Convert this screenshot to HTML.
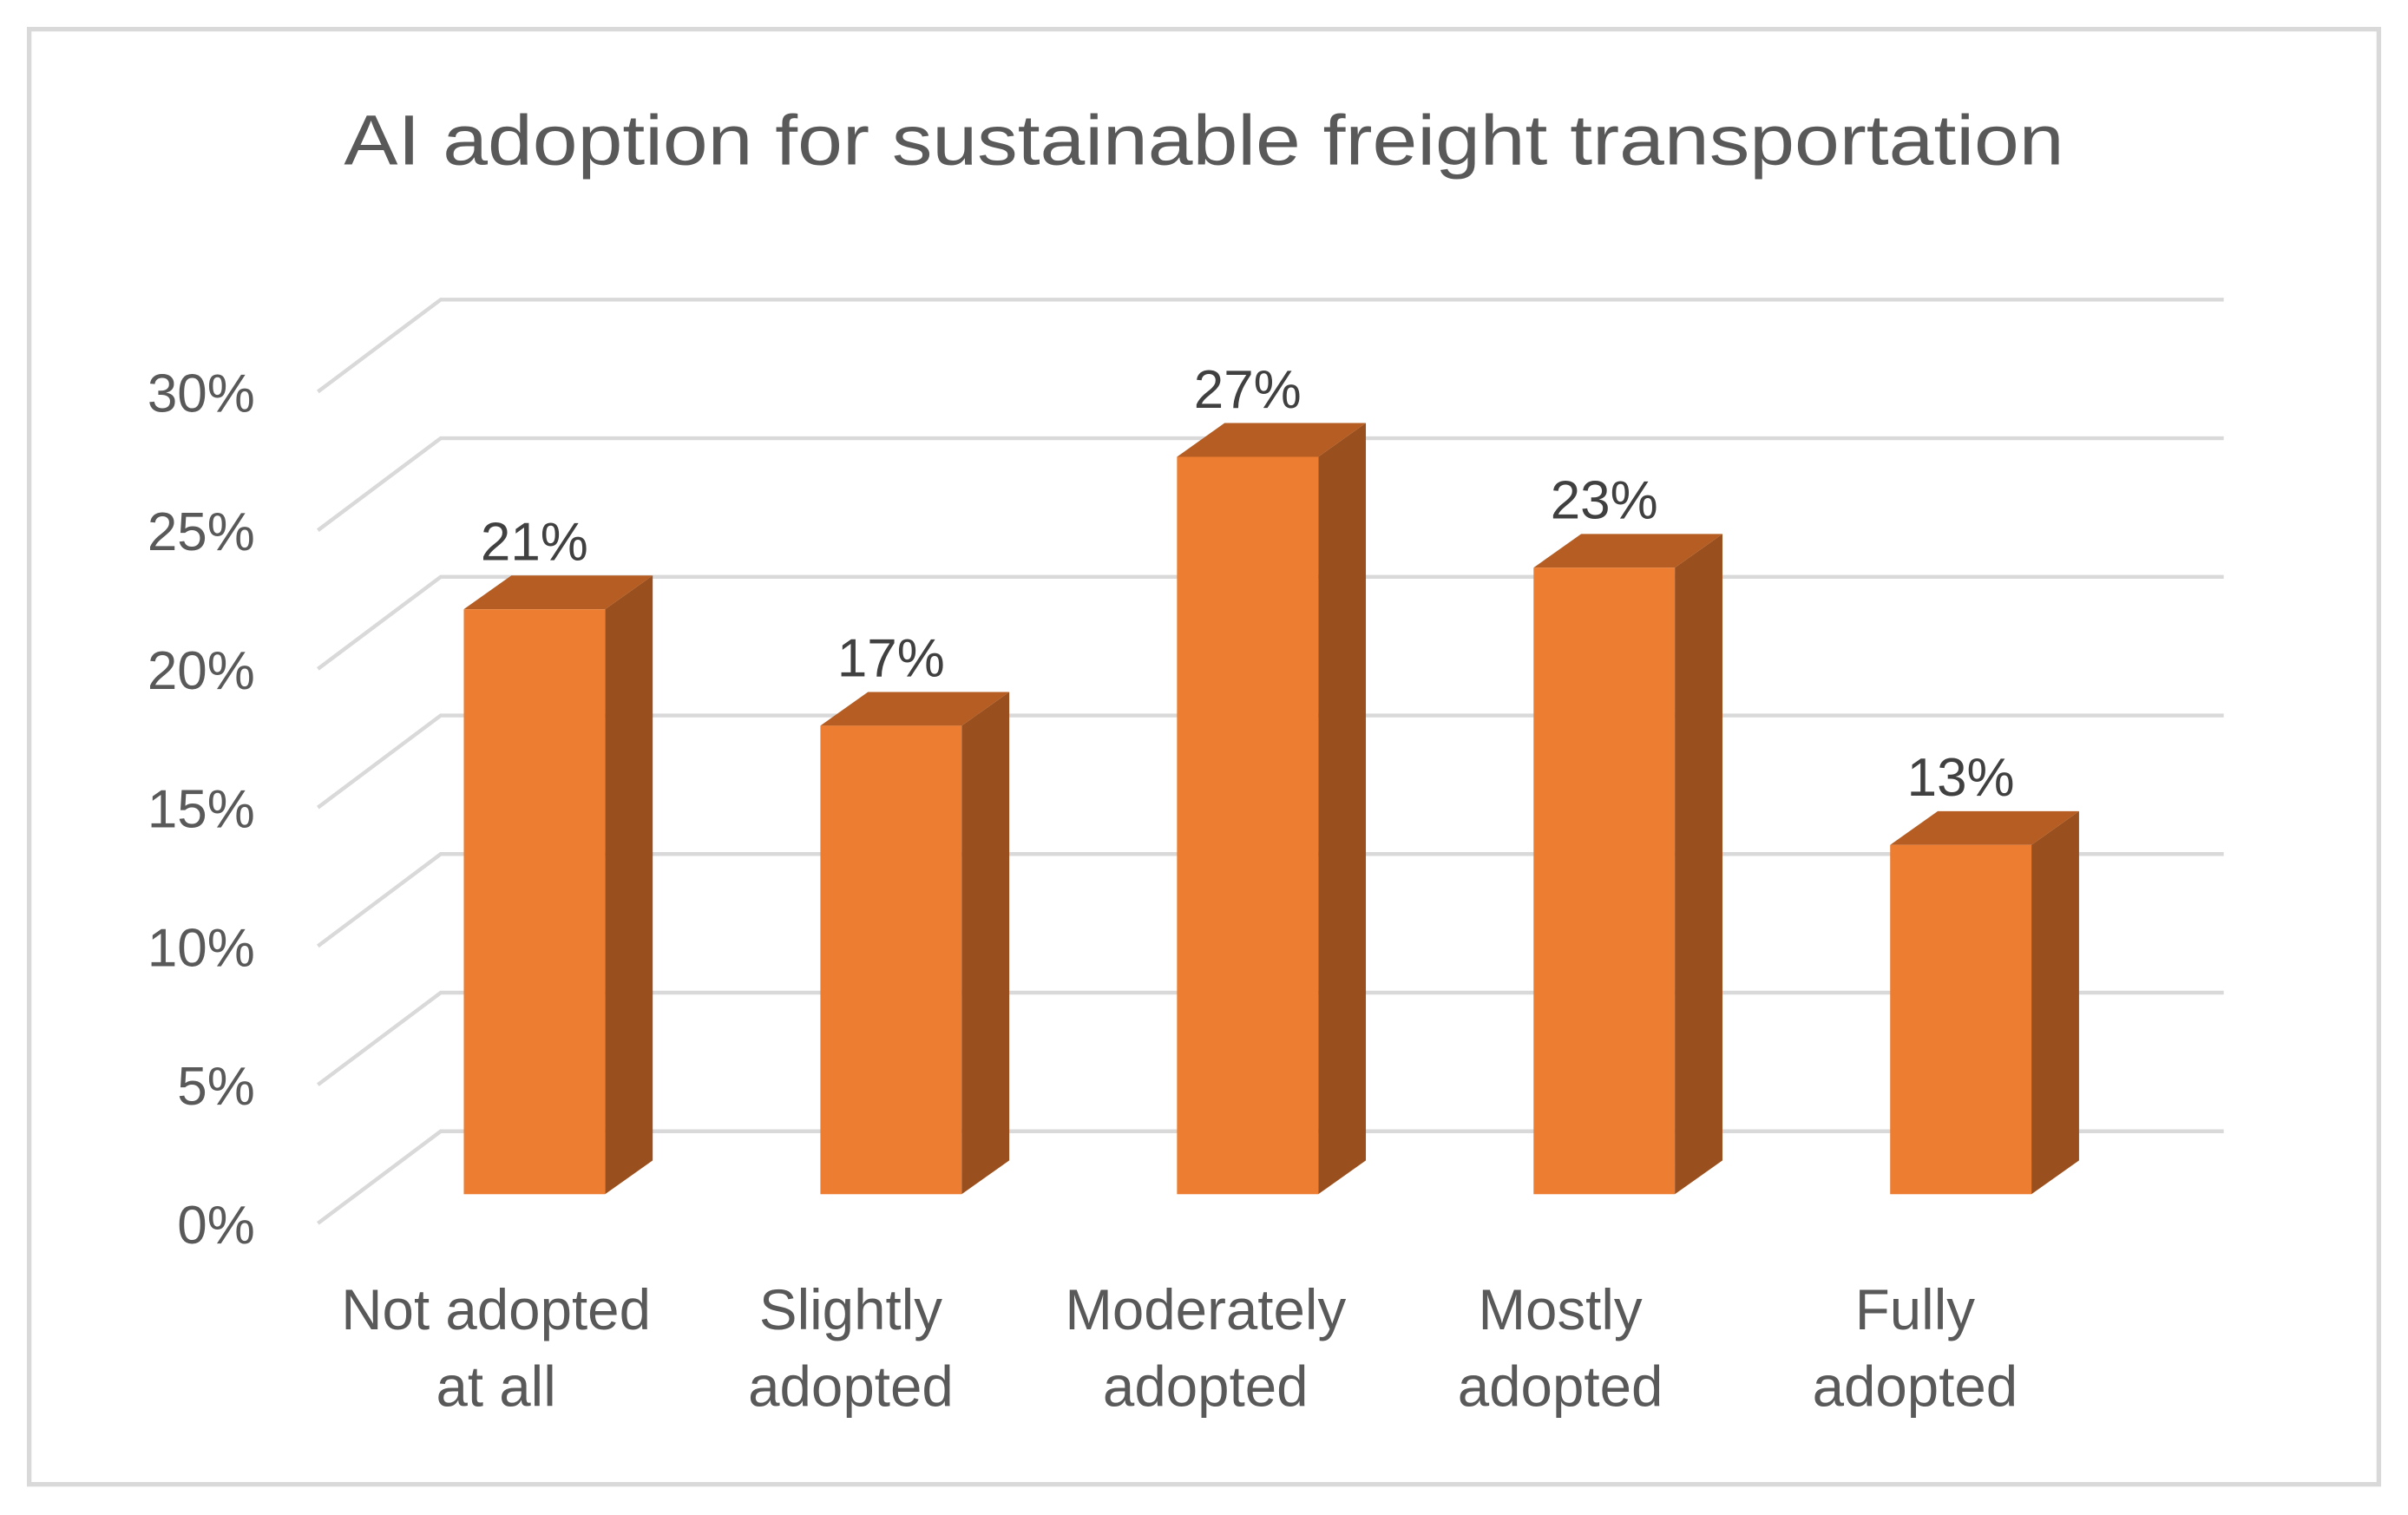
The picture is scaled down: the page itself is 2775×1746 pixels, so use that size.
<!DOCTYPE html>
<html><head><meta charset="utf-8"><style>
html,body{margin:0;padding:0;background:#fff;}
svg{display:block;}
text{font-family:"Liberation Sans",sans-serif;}
</style></head><body>
<svg id="chart" width="2775" height="1746" viewBox="0 0 1568 987" preserveAspectRatio="none" xmlns="http://www.w3.org/2000/svg">
<rect x="19" y="19" width="1530" height="948" fill="#fff" stroke="#d9d9d9" stroke-width="3"/>
<text x="784" y="107" text-anchor="middle" font-size="46" fill="#595959" textLength="1120" lengthAdjust="spacingAndGlyphs">AI adoption for sustainable freight transportation</text>
<g id="grid"></g>
<g id="yticks"></g>
<g id="bars"></g>
<g id="xlabels"></g>
</svg>
<script>
const categories = [["Not adopted","at all"],["Slightly","adopted"],["Moderately","adopted"],["Mostly","adopted"],["Fully","adopted"]];
const values = [21.1, 16.9, 26.6, 22.6, 12.6];
const valueLabels = ["21%","17%","27%","23%","13%"];
const yTicks = [0,5,10,15,20,25,30];
const yTickLabels = ["0%","5%","10%","15%","20%","25%","30%"];

const NS="http://www.w3.org/2000/svg";
const pxPer = 18.06;
const backBase = 737, barBase = 778, frontBase = 797;
function yBack(v){return backBase - v*pxPer;}
function yBar(v){return barBase - v*pxPer;}
function yFront(v){return frontBase - v*pxPer;}
function xCat(i){return 302 + i*232.2;}
function xLabel(i){return 323 + i*231;}
const barW = 92, dx = 31, dy = 22;
function mk(tag, attrs, parent){const e=document.createElementNS(NS,tag);for(const k in attrs)e.setAttribute(k,attrs[k]);parent.appendChild(e);return e;}

const grid=document.getElementById('grid');
const yt=document.getElementById('yticks');
yTicks.forEach((t,i)=>{
  const p=mk('polyline',{points:`207,${yFront(t)} 287,${yBack(t)} 1448,${yBack(t)}`,fill:'none',stroke:'#d9d9d9','stroke-width':2.5},grid);
  
  
  const tx=mk('text',{x:166,y:yFront(t)+13,'text-anchor':'end','font-size':35,fill:'#595959'},yt);
  tx.textContent=yTickLabels[i];
  
  
});

const bars=document.getElementById('bars');
const xl=document.getElementById('xlabels');
values.forEach((v,i)=>{
  const x=xCat(i), top=yBar(v), bot=barBase;
  const g=mk('g',{},bars);
  
  
  mk('polygon',{points:`${x+barW},${top} ${x+barW+dx},${top-dy} ${x+barW+dx},${bot-dy} ${x+barW},${bot}`,fill:'#9a4f1e'},g);
  mk('polygon',{points:`${x},${top} ${x+dx},${top-dy} ${x+barW+dx},${top-dy} ${x+barW},${top}`,fill:'#b55d22'},g);
  mk('rect',{x:x,y:top,width:barW,height:bot-top,fill:'#ed7d31'},g);
  const lb=mk('text',{x:x+barW/2,y:top-dy-10,'text-anchor':'middle','font-size':35,fill:'#404040'},bars);
  lb.textContent=valueLabels[i];
  
  
  categories[i].forEach((line,j)=>{
    const c=mk('text',{x:xLabel(i),y:866+j*50,'text-anchor':'middle','font-size':37,fill:'#595959'},xl);
    c.textContent=line;
    
    
  });
});
</script>
</body></html>
